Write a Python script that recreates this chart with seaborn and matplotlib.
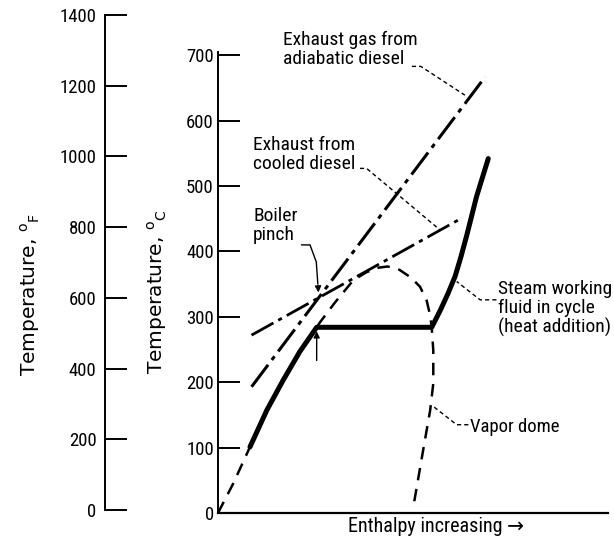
import numpy as np
import pandas as pd
import matplotlib
matplotlib.use("Agg")
import matplotlib.pyplot as plt
import seaborn as sns
from matplotlib import font_manager

# ---------------- data (enthalpy in arbitrary units, temperature in deg C) ----
adiabatic_h = [8.6, 68.5]
adiabatic_T = [193, 667]

cooled_h = [8.6, 61.6]
cooled_T = [272, 448]

dome_h = [0, 3.9, 8.2, 12.5, 16.7, 21.0, 25.3, 26.2, 30.0, 34.7, 38.0, 41.0,
          43.5, 46.5, 49.5, 51.8, 53.5, 54.4, 54.8, 55.2, 55.2, 54.4, 52.6, 50.1]
dome_T = [0, 45, 101, 157, 203, 247, 284, 292, 322, 356, 368, 375,
          377, 372, 360, 346, 325, 302, 284, 249, 198, 157, 96, 10]

steam_h = [8.2, 12.5, 16.7, 21.0, 25.3, 54.8, 57.0, 59.0, 60.8, 62.3, 63.8, 66.3, 69.3]
steam_T = [101, 157, 203, 247, 284, 284, 310, 336, 362, 392, 425, 484, 542]

celsius_ticks = [0, 100, 200, 300, 400, 500, 600, 700]
fahrenheit_ticks = [0, 200, 400, 600, 800, 1000, 1200, 1400]

# ---------------- style ----------------
sns.set_style("ticks")
fam = "DejaVu Sans"
narrow = False
for cand in ["Liberation Sans Narrow", "DejaVu Sans Condensed", "Roboto Condensed",
             "Open Sans Condensed", "Noto Sans Condensed"]:
    try:
        font_manager.findfont(cand, fallback_to_default=False)
        fam = cand
        narrow = True
        break
    except Exception:
        pass
plt.rcParams["font.family"] = [fam, "DejaVu Sans"]
plt.rcParams["mathtext.fontset"] = "custom"
plt.rcParams["mathtext.rm"] = fam
plt.rcParams["mathtext.it"] = fam
plt.rcParams["mathtext.default"] = "regular"
plt.rcParams["text.color"] = "black"
plt.rcParams["ytick.labelcolor"] = "black"
plt.rcParams["ytick.color"] = "black"
plt.rcParams["axes.edgecolor"] = "black"

k = 1.0 if narrow else 0.85
TFS = 13.5 * k     # tick labels
AFS = 14 * k       # annotations
fig = plt.figure(figsize=(6.14, 5.37), dpi=100)

# Fahrenheit scale (separate axis)
axf = fig.add_axes([105 / 614, 27 / 537, 0.05, 495 / 537])
axf.set_ylim(0, 1400)
axf.set_yticks(fahrenheit_ticks)
axf.set_xticks([])
for s in ["top", "right", "bottom"]:
    axf.spines[s].set_visible(False)
axf.spines["left"].set_linewidth(1.4)
axf.tick_params(axis="y", direction="in", length=16, width=1.4, labelsize=TFS, pad=6)
axf.patch.set_alpha(0)

# Main axes (Celsius)
ax = fig.add_axes([218 / 614, 24 / 537, 390 / 614, 461 / 537])
ax.set_xlim(0, 100)
ax.set_ylim(0, 705)
ax.set_yticks(celsius_ticks)
ax.set_xticks([])
sns.despine(ax=ax)
ax.spines["left"].set_linewidth(1.4)
ax.spines["bottom"].set_linewidth(1.6)
ax.tick_params(axis="y", direction="in", length=16, width=1.4, labelsize=TFS, pad=3)
ax.patch.set_alpha(0)

def line(h, T, **kw):
    df = pd.DataFrame({"h": h, "T": T})
    sns.lineplot(data=df, x="h", y="T", ax=ax, sort=False, estimator=None,
                 color="black", **kw)

line(dome_h, dome_T, lw=1.8, dashes=(5, 3.5))
line(adiabatic_h, adiabatic_T, lw=2.2, dashes=(9, 2, 1.5, 2))
line(cooled_h, cooled_T, lw=2.0, dashes=(9, 2, 1.5, 2))
line(steam_h, steam_T, lw=3.6)
ax.set_xlabel("")
ax.set_ylabel("")

# ---------------- annotations ----------------
lk = dict(color="black", lw=1.0, dashes=(3, 2.2))
ax.text(16.7, 738, "Exhaust gas from\nadiabatic diesel", fontsize=AFS, va="top",
        ha="left", linespacing=1.1)
ax.plot([49.7, 52.0, 63.3], [683, 683, 639], **lk)

ax.text(9.0, 577, "Exhaust from\ncooled diesel", fontsize=AFS, va="top",
        ha="left", linespacing=1.1)
ax.plot([36.4, 38.1, 56.9], [527, 527, 433], **lk)

ax.text(9.0, 468, "Boiler\npinch", fontsize=AFS, va="top", ha="left",
        linespacing=1.1)
ax.plot([21.4, 23.6, 25.2, 25.6], [410, 410, 384, 350], color="black", lw=1.0)
ax.annotate("", xy=(25.8, 333), xytext=(25.6, 352),
            arrowprops=dict(arrowstyle="-|>", color="black", lw=1.0,
                            mutation_scale=9))
ax.annotate("", xy=(25.3, 282), xytext=(25.3, 229),
            arrowprops=dict(arrowstyle="-|>", color="black", lw=1.0,
                            mutation_scale=9))

ax.text(71.8, 356, "Steam working\nfluid in cycle\n(heat addition)",
        fontsize=14.0 * k, va="top", ha="left", linespacing=1.05, clip_on=False)
ax.plot([71.4, 67.2, 61.2], [326, 326, 354], **lk)

ax.text(64.6, 131, "Vapor dome", fontsize=13.5 * k, va="center", ha="left")
ax.plot([64.2, 61.2, 55.2], [135, 135, 163], **lk)

ax.text(0.56, -0.008, "Enthalpy increasing \u2192", transform=ax.transAxes,
        fontsize=14.5 * k, ha="center", va="top")

YF = ["DejaVu Sans"]
fig.text(30 / 614, 1 - 295 / 537, r"Temperature, $^{o}$$_{F}$", rotation=90,
         fontsize=14.5, ha="center", va="center", family=YF)
fig.text(157 / 614, 1 - 292 / 537, r"Temperature, $^{o}$$_{C}$", rotation=90,
         fontsize=14.5, ha="center", va="center", family=YF)

fig.savefig("out.png", dpi=100)
